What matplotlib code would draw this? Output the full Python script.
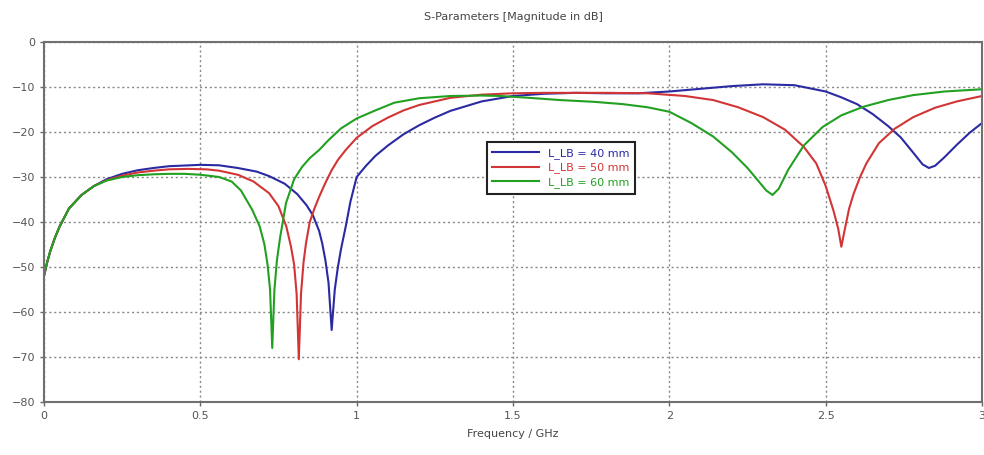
import numpy as np
import matplotlib.pyplot as plt

# S11 magnitude (dB) for three line lengths
freq_40 = [0, 0.01, 0.02, 0.035, 0.05, 0.08, 0.12, 0.16, 0.2, 0.25, 0.3, 0.35, 0.4,
           0.5, 0.56, 0.62, 0.68, 0.72, 0.77, 0.81, 0.84, 0.86, 0.88, 0.89, 0.9,
           0.91, 0.92, 0.93, 0.94, 0.95, 0.965, 0.98, 1.0, 1.03, 1.06, 1.1, 1.15,
           1.2, 1.25, 1.3, 1.4, 1.5, 1.6, 1.7, 1.8, 1.9, 2.0, 2.1, 2.2, 2.3, 2.4,
           2.5, 2.55, 2.6, 2.65, 2.7, 2.74, 2.78, 2.81, 2.83, 2.85, 2.88, 2.92,
           2.96, 3.0]
s11_40 = [-52, -49, -46.5, -43.5, -41, -37, -34, -32, -30.5, -29.3, -28.5, -28,
          -27.6, -27.3, -27.4, -28, -28.8, -29.8, -31.5, -33.8, -36.3, -38.5, -42,
          -44.8, -48.5, -53.5, -64, -55, -50, -46, -41, -35.5, -30, -27.5, -25.3,
          -23, -20.5, -18.5, -16.8, -15.3, -13.2, -12, -11.5, -11.3, -11.4, -11.4,
          -11, -10.4, -9.8, -9.4, -9.6, -11, -12.3, -13.8, -16, -18.7, -21.2,
          -24.6, -27.2, -28, -27.5, -25.6, -22.8, -20.2, -18]

freq_50 = [0, 0.01, 0.02, 0.035, 0.05, 0.08, 0.12, 0.16, 0.2, 0.25, 0.3, 0.35, 0.4,
           0.46, 0.52, 0.56, 0.62, 0.67, 0.72, 0.75, 0.775, 0.79, 0.8, 0.808, 0.815,
           0.822, 0.83, 0.838, 0.85, 0.865, 0.88, 0.9, 0.92, 0.94, 0.965, 1.0,
           1.05, 1.1, 1.15, 1.2, 1.3, 1.4, 1.5, 1.6, 1.7, 1.8, 1.93, 2.05, 2.14,
           2.22, 2.3, 2.37, 2.43, 2.47, 2.5, 2.525, 2.54, 2.55, 2.56, 2.575, 2.59,
           2.61, 2.63, 2.67, 2.72, 2.78, 2.85, 2.92, 3.0]
s11_50 = [-52, -49, -46.5, -43.5, -41, -37, -34, -32, -30.7, -29.7, -29, -28.6,
          -28.3, -28.2, -28.3, -28.6, -29.5, -31, -33.6, -36.5, -41, -45.5, -49.5,
          -56, -70.5, -56, -49, -44.7, -40, -37, -34.4, -31.3, -28.5, -26.2, -24,
          -21.3, -18.7, -16.8, -15.2, -14, -12.4, -11.7, -11.4, -11.3, -11.3,
          -11.3, -11.4, -12, -12.9, -14.5, -16.7, -19.5, -23.3, -27, -32, -37.5,
          -41.5, -45.5, -42, -37, -33.6, -30, -27, -22.5, -19.3, -16.7, -14.6,
          -13.2, -12]

freq_60 = [0, 0.01, 0.02, 0.035, 0.05, 0.08, 0.12, 0.16, 0.2, 0.25, 0.3, 0.35, 0.4,
           0.45, 0.5, 0.56, 0.6, 0.63, 0.666, 0.69, 0.705, 0.715, 0.723, 0.73,
           0.737, 0.745, 0.755, 0.774, 0.8, 0.825, 0.85, 0.88, 0.91, 0.95, 1.0,
           1.06, 1.12, 1.2, 1.3, 1.4, 1.46, 1.55, 1.65, 1.76, 1.85, 1.93, 2.0,
           2.07, 2.14, 2.2, 2.25, 2.28, 2.31, 2.33, 2.35, 2.38, 2.43, 2.49, 2.55,
           2.62, 2.7, 2.78, 2.88, 3.0]
s11_60 = [-52, -49, -46.5, -43.5, -41, -37, -34, -32, -30.8, -30, -29.6, -29.4,
          -29.3, -29.3, -29.5, -30, -31, -33, -37.3, -41, -45, -49.5, -55, -68,
          -55, -48.5, -43.5, -35.8, -30.5, -27.8, -25.8, -24, -21.8, -19.2, -17,
          -15.2, -13.5, -12.5, -12, -11.9, -12, -12.4, -12.9, -13.3, -13.8, -14.5,
          -15.5, -18, -21, -24.5, -28, -30.5, -33, -34, -32.6, -28.4, -23, -18.9,
          -16.3, -14.4, -12.9, -11.8, -11, -10.5]

labels = ["L_LB = 40 mm", "L_LB = 50 mm", "L_LB = 60 mm"]
colors = ["#2a2aa2", "#d23535", "#22a022"]
x_ticks = [0, 0.5, 1, 1.5, 2, 2.5, 3]
x_ticklabels = ["0", "0.5", "1", "1.5", "2", "2.5", "3"]
y_ticks = [0, -10, -20, -30, -40, -50, -60, -70, -80]

fig = plt.figure(figsize=(9.84, 4.55), dpi=100)
ax = fig.add_axes([0.0447, 0.1165, 0.9533, 0.7912])

series = [(freq_40, s11_40), (freq_50, s11_50), (freq_60, s11_60)]
for (f, s), lab, c in zip(series, labels, colors):
    ax.plot(f, s, color=c, lw=1.5, label=lab, solid_joinstyle="round")

ax.set_xlim(0, 3)
ax.set_ylim(-80, 0)
ax.set_xticks(x_ticks)
ax.set_xticklabels(x_ticklabels)
ax.set_yticks(y_ticks)
ax.grid(True, ls=(0, (1.5, 2)), color="#888888", lw=1)
ax.tick_params(labelsize=8, colors="#666666", length=3, width=1, labelcolor="#555555")
for sp in ax.spines.values():
    sp.set_color("#707070")
    sp.set_linewidth(1.5)

ax.set_title("S-Parameters [Magnitude in dB]", fontsize=8, color="#444444", pad=16)
ax.set_xlabel("Frequency / GHz", fontsize=8, color="#444444", labelpad=6)

leg = ax.legend(loc="upper left", bbox_to_anchor=(0.472, 0.722), borderaxespad=0,
                fontsize=8, handlelength=4.2, labelcolor="linecolor", fancybox=False,
                framealpha=1, borderpad=0.5, labelspacing=0.35)
leg.get_frame().set_edgecolor("#222222")
leg.get_frame().set_linewidth(1.5)

fig.savefig("out.png", dpi=100)
